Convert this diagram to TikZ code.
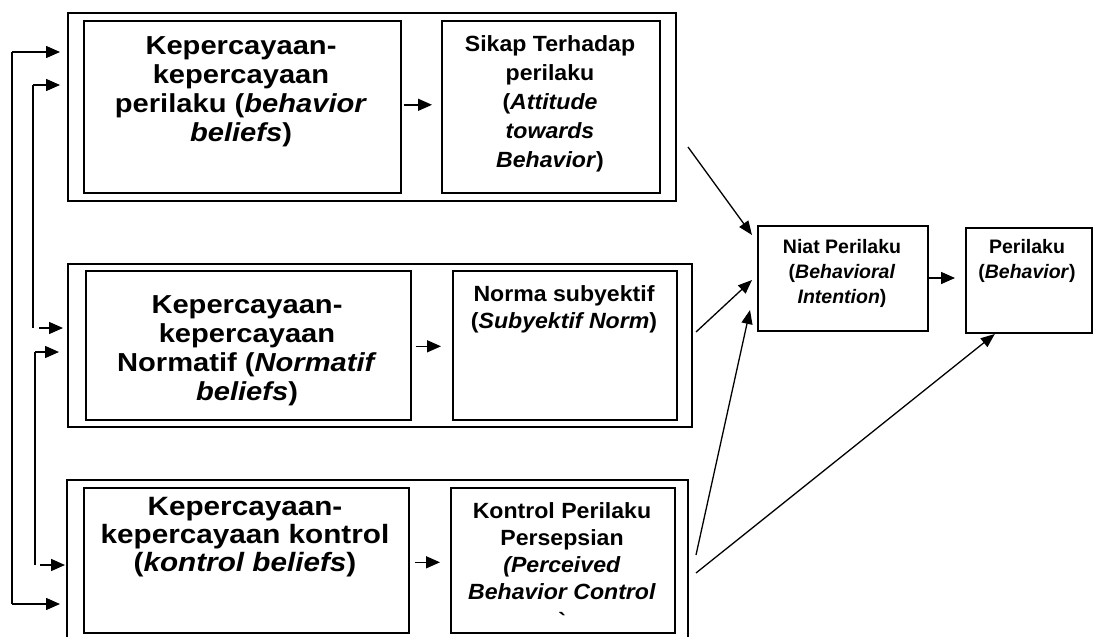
\documentclass[tikz,border=0pt]{standalone}
\usepackage{fontspec}
\setmainfont{Liberation Sans}
\newfontfamily\widesans[FakeStretch=1.12]{Liberation Sans}
\newfontfamily\midsans[FakeStretch=1.05]{Liberation Sans}
\usetikzlibrary{arrows.meta,calc}

\tikzset{
  frame/.style={draw, line width=1.6pt},
  inbox/.style={draw, line width=1.6pt},
  big/.style={font=\widesans\bfseries\fontsize{26}{29}\selectfont, align=center, inner sep=0pt, anchor=north},
  mid/.style={font=\midsans\bfseries\fontsize{22}{29}\selectfont, align=center, inner sep=0pt, anchor=north},
  sml/.style={font=\bfseries\fontsize{19.5}{25}\selectfont, align=center, inner sep=0pt, anchor=north},
  arr/.style={line width=1.5pt, -{Triangle[length=14pt,width=12pt]}},
  thin/.style={line width=1.3pt, -{Triangle[length=14pt,width=11pt]}},
  wire/.style={line width=1.5pt}
}

\begin{document}
\begin{tikzpicture}[x=1pt,y=-1pt]
\useasboundingbox (0,0) rectangle (1095,637);

% group frames
\node[frame, minimum width=608pt, minimum height=188pt, anchor=north west] (g1) at (67,12) {};
\node[frame, minimum width=624pt, minimum height=163pt, anchor=north west] (g2) at (67,263) {};
% the third frame runs past the bottom edge
\draw[line width=1.6pt] (67,640) coordinate (g3sw) -- (67,480) coordinate (g3nw) -- (688,480) coordinate (g3ne) -- (688,640) coordinate (g3se);

% belief boxes
\node[inbox, minimum width=317pt, minimum height=172pt, anchor=north west] (a1) at (83,20) {};
\node[inbox, minimum width=218pt, minimum height=172pt, anchor=north west] (b1) at (441,20) {};
\node[inbox, minimum width=325pt, minimum height=149pt, anchor=north west] (a2) at (85,270) {};
\node[inbox, minimum width=224pt, minimum height=149pt, anchor=north west] (b2) at (452,270) {};
\node[inbox, minimum width=325pt, minimum height=145pt, anchor=north west] (a3) at (83,487) {};
\node[inbox, minimum width=224pt, minimum height=145pt, anchor=north west] (b3) at (450,487) {};

% intention and behaviour
\node[inbox, minimum width=170pt, minimum height=105pt, anchor=north west] (niat) at (757,225) {};
\node[inbox, minimum width=126pt, minimum height=105pt, anchor=north west] (peri) at (965,227) {};

% texts
\node[big] (a1t) at (241,36) {Kepercayaan-\\kepercayaan\\perilaku (\textit{behavior}\\\textit{beliefs})};
\node[mid] (b1t) at (550,35) {Sikap Terhadap\\perilaku\\(\textit{Attitude}\\\textit{towards}\\\textit{Behavior})};
\node[big] (a2t) at (247,295) {Kepercayaan-\\kepercayaan\\Normatif (\textit{Normatif}\\\textit{beliefs})};
\node[mid, font=\midsans\bfseries\fontsize{22}{27}\selectfont] (b2t) at (564,285) {Norma subyektif\\(\textit{Subyektif Norm})};
\node[big, font=\widesans\bfseries\fontsize{26.5}{28}\selectfont] (a3t) at (245,497) {Kepercayaan-\\kepercayaan kontrol\\(\textit{kontrol beliefs})};
\node[mid, font=\midsans\bfseries\fontsize{22}{27}\selectfont] (b3t) at (562,502) {Kontrol Perilaku\\Persepsian\\\textit{(Perceived}\\\textit{Behavior Control}\\[2pt]\textasciigrave};
\node[sml] (niatt) at (842,239) {Niat Perilaku\\(\textit{Behavioral}\\\textit{Intention})};
\node[sml] (perit) at (1027,239) {Perilaku\\(\textit{Behavior})};

% arrows inside the groups
\draw[arr] ($(a1.east)+(2,-2)$) coordinate (a1o) -- ($(b1.west)+(-9,-2)$);
\draw[arr] ($(a2.east)+(4,1)$) coordinate (a2o) -- ($(b2.west)+(-11,1)$);
\draw[arr] ($(a3.east)+(5,2)$) coordinate (a3o) -- ($(b3.west)+(-10,2)$);
\draw[arr] (niat.east |- 0,278) -- ($(peri.west |- 0,278)+(-10,0)$);

% influences on intention and behaviour
\coordinate (s1) at (688,147);
\coordinate (s2) at (696,332);
\coordinate (s3) at (696,555);
\coordinate (s4) at (696,573);
\draw[thin] (s1) -- ($(niat.west |- 0,235)+(-5,0)$);
\draw[thin] (s2) -- ($(niat.west |- 0,280)+(-5,0)$);
\draw[thin] (s3) -- ($(niat.west |- 0,310)+(-7,0)$);
\draw[thin] (s4) -- ($(peri.south |- 0,334)+(-34,0)$);

% feedback lines on the left
\coordinate (f1t) at (12,52);
\coordinate (f1b) at (12,604);
\draw[wire] (f1t) -- (f1b);
\draw[arr] (f1t) -- ($(g1.west |- f1t)+(-7,0)$);
\draw[arr] (f1b) -- ($(g3nw |- f1b)+(-7,0)$);

\coordinate (f2t) at (33,85);
\coordinate (f2b) at (33,328);
\draw[wire] (f2t) -- (f2b);
\draw[arr] (f2t) -- ($(g1.west |- f2t)+(-7,0)$);
\draw[arr] ($(f2b)+(6,0)$) -- ($(g2.west |- f2b)+(-4,0)$);

\coordinate (f3t) at (35,352);
\coordinate (f3b) at (35,565);
\draw[wire] (f3t) -- (f3b);
\draw[arr] (f3t) -- ($(g2.west |- f3t)+(-8,0)$);
\draw[arr] ($(f3b)+(5,0)$) -- ($(g3nw |- f3b)+(-2,0)$);
\end{tikzpicture}
\end{document}
